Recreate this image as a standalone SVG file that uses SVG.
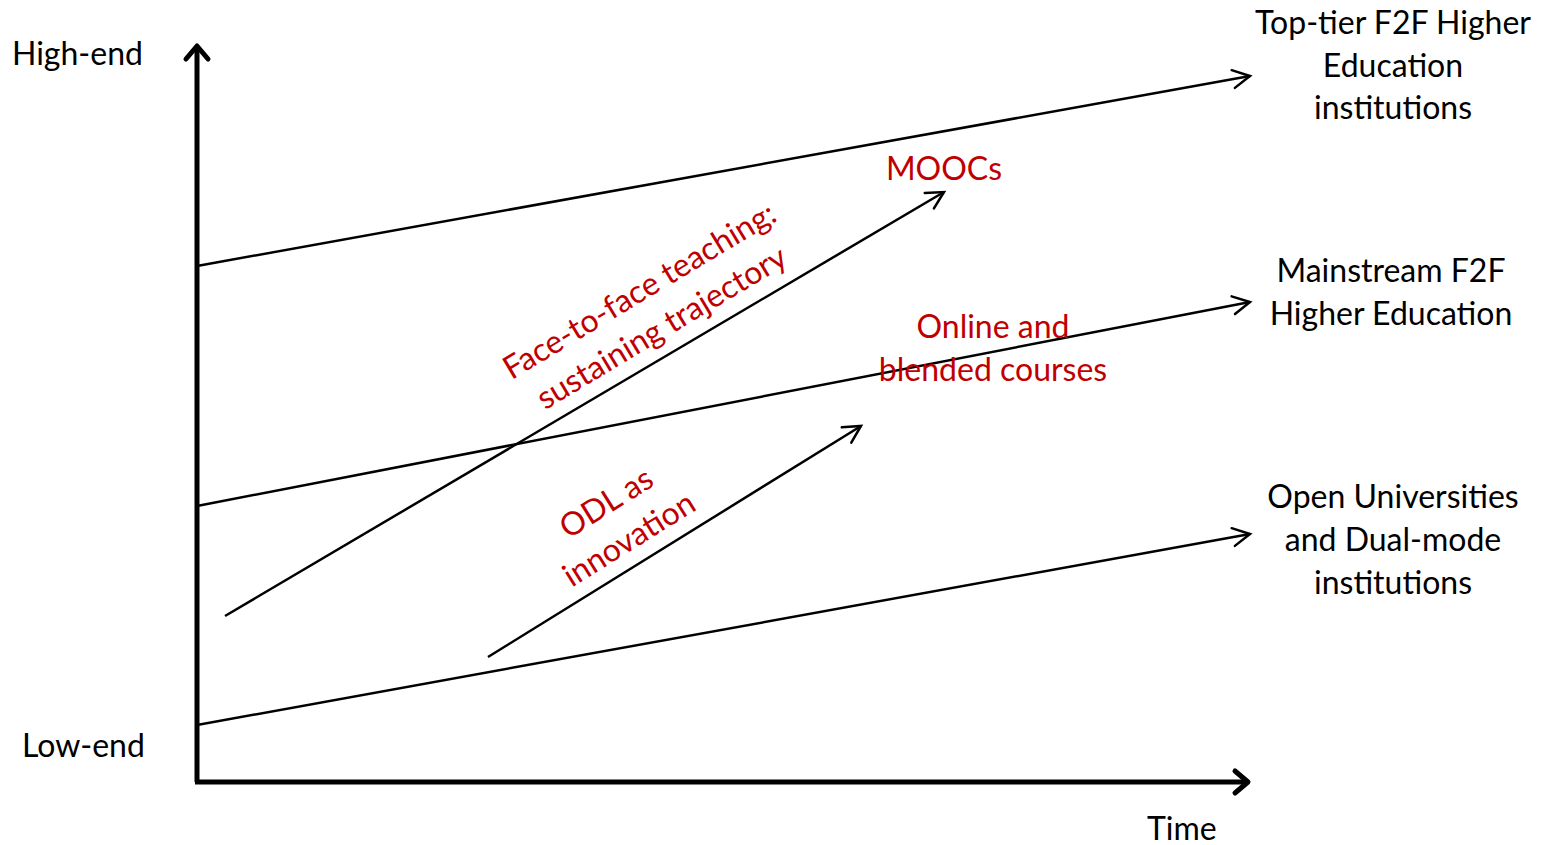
<svg xmlns="http://www.w3.org/2000/svg" width="1545" height="845" viewBox="0 0 1545 845">
<style>
text{font-family:Lato,"Open Sans","Liberation Sans",sans-serif;font-size:32px;fill:#000}
.red{fill:#C00000}
.ln{stroke:#000;stroke-width:2.5;fill:none}
.ax{stroke:#000;stroke-width:5;fill:none}
</style>
<defs>
<marker id="thin" markerUnits="userSpaceOnUse" markerWidth="40" markerHeight="40" viewBox="-20 -20 40 40" refX="0" refY="0" orient="auto" overflow="visible">
<path d="M-17,-9 L0,0 L-17,9" fill="none" stroke="#000" stroke-width="2.5" stroke-linecap="round"/>
</marker>
<marker id="thick" markerUnits="userSpaceOnUse" markerWidth="40" markerHeight="40" viewBox="-20 -20 40 40" refX="0" refY="0" orient="auto" overflow="visible">
<path d="M-13,-11 L0,0 L-13,11" fill="none" stroke="#000" stroke-width="5" stroke-linecap="round" stroke-linejoin="round"/>
</marker>
</defs>
<g id="connectors">
<line class="ax" x1="197" y1="782" x2="197" y2="46" marker-end="url(#thick)"/>
<line class="ax" x1="195" y1="782" x2="1248" y2="782" marker-end="url(#thick)"/>
<line class="ln" x1="197" y1="266" x2="1250" y2="76" marker-end="url(#thin)"/>
<line class="ln" x1="197" y1="506" x2="1250" y2="302" marker-end="url(#thin)"/>
<line class="ln" x1="197" y1="725" x2="1250" y2="534" marker-end="url(#thin)"/>
<line class="ln" x1="225" y1="616" x2="944" y2="192" marker-end="url(#thin)"/>
<line class="ln" x1="488" y1="657" x2="861" y2="426" marker-end="url(#thin)"/>
</g>
<g id="axis-labels">
<text x="12" y="65">High-end</text>
<text x="22" y="757">Low-end</text>
<text x="1147" y="840">Time</text>
</g>
<g id="top-tier" text-anchor="middle">
<text x="1393" y="34">Top-tier F2F Higher</text>
<text x="1393" y="77">Education</text>
<text x="1393" y="119">institutions</text>
</g>
<g id="mainstream" text-anchor="middle">
<text x="1391" y="282">Mainstream F2F</text>
<text x="1391" y="325">Higher Education</text>
</g>
<g id="open-universities" text-anchor="middle">
<text x="1393" y="508">Open Universities</text>
<text x="1393" y="551">and Dual-mode</text>
<text x="1393" y="594">institutions</text>
</g>
<g id="moocs"><text class="red" x="944" y="180" text-anchor="middle">MOOCs</text></g>
<g id="online" text-anchor="middle">
<text class="red" x="993" y="338">Online and</text>
<text class="red" x="993" y="381">blended courses</text>
</g>
<g id="f2f-label" transform="translate(645,300) rotate(-31)" text-anchor="middle">
<text class="red" x="0" y="0">Face-to-face teaching:</text>
<text class="red" x="0" y="43">sustaining trajectory</text>
</g>
<g id="odl-label" transform="translate(612,512) rotate(-32)" text-anchor="middle">
<text class="red" x="0" y="0">ODL as</text>
<text class="red" x="0" y="43">innovation</text>
</g>
</svg>
